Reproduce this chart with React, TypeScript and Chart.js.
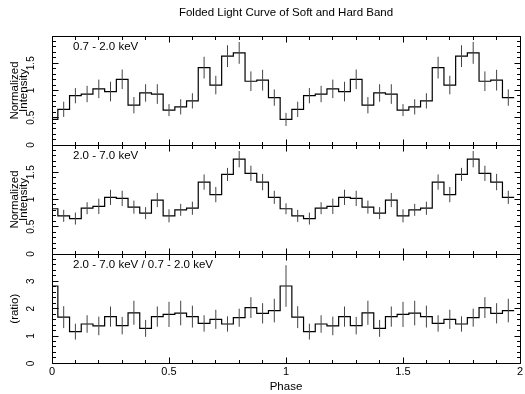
import React, { useEffect, useRef } from 'react';
import { Chart, registerables } from 'chart.js';

Chart.register(...registerables);
Chart.defaults.font.family = '"Liberation Sans", Arial, Helvetica, sans-serif';
Chart.defaults.color = '#000';

// ---- data (one folded cycle, plotted twice) ----
const binCenters = [0, 0.05, 0.1, 0.15, 0.2, 0.25, 0.3, 0.35, 0.4, 0.45, 0.5, 0.55, 0.6, 0.65, 0.7, 0.75, 0.8, 0.85, 0.9, 0.95];
const cycleOffsets = [0, 1];
const binHalfWidth = 0.025;

const softRate = [0.47, 0.655, 0.905, 0.935, 1.03, 0.98, 1.205, 0.73, 0.955, 0.935, 0.64, 0.70, 0.81, 1.42, 1.10, 1.63, 1.69, 1.17, 1.19, 0.87];
const softErr = [0.12, 0.14, 0.14, 0.15, 0.17, 0.18, 0.18, 0.15, 0.16, 0.18, 0.11, 0.14, 0.14, 0.20, 0.17, 0.20, 0.20, 0.18, 0.19, 0.15];

const hardRate = [0.83, 0.70, 0.65, 0.84, 0.875, 1.04, 1.02, 0.86, 0.75, 0.99, 0.70, 0.81, 0.84, 1.32, 1.09, 1.46, 1.74, 1.48, 1.32, 1.04];
const hardErr = [0.10, 0.11, 0.11, 0.11, 0.14, 0.14, 0.14, 0.12, 0.11, 0.13, 0.12, 0.11, 0.12, 0.14, 0.14, 0.12, 0.15, 0.14, 0.15, 0.12];

const ratioRate = [2.83, 1.69, 1.16, 1.44, 1.37, 1.71, 1.38, 1.85, 1.28, 1.71, 1.79, 1.84, 1.71, 1.46, 1.61, 1.44, 1.67, 2.04, 1.83, 1.93];
const ratioErr = [0.76, 0.40, 0.29, 0.32, 0.34, 0.37, 0.32, 0.44, 0.31, 0.37, 0.46, 0.45, 0.40, 0.30, 0.35, 0.28, 0.33, 0.38, 0.37, 0.43];

const bandLabels = ['0.7 - 2.0 keV', '2.0 - 7.0 keV', '2.0 - 7.0 keV / 0.7 - 2.0 keV'];
const phaseTicks = [0, 0.5, 1, 1.5, 2];
const intensityTicks = [0, 0.5, 1, 1.5];
const ratioTicks = [0, 1, 2, 3];

const TITLE = 'Folded Light Curve of Soft and Hard Band';

function stepPoints(vals: number[]) {
  const pts: { x: number; y: number }[] = [];
  cycleOffsets.forEach((off) =>
    binCenters.forEach((c, i) => pts.push({ x: Math.max(0, off + c - binHalfWidth), y: vals[i] }))
  );
  const lastC = cycleOffsets[cycleOffsets.length - 1] + binCenters[binCenters.length - 1];
  pts.push({ x: lastC + binHalfWidth, y: vals[vals.length - 1] });
  return pts;
}

function errPoints(vals: number[], errs: number[]) {
  const pts: { x: number; y: number | null }[] = [];
  cycleOffsets.forEach((off) =>
    binCenters.forEach((c, i) => {
      const x = off + c;
      pts.push({ x, y: vals[i] - errs[i] }, { x, y: vals[i] + errs[i] }, { x, y: null });
    })
  );
  return pts;
}

const fmt = (v: number | string) => String(Number(v));

const framePlugin = {
  id: 'pgframe',
  afterDraw(chart: any, _args: any, opts: any) {
    const { ctx, chartArea: a, scales } = chart;
    const xs = scales.x;
    const ys = scales.y;
    const crisp = (v: number) => Math.floor(v) + 0.5;
    ctx.save();
    ctx.strokeStyle = '#000';
    ctx.lineWidth = 1;
    const L = crisp(a.left), R = crisp(a.right), T = crisp(a.top), B = crisp(a.bottom);
    ctx.beginPath();
    ctx.rect(L, T, R - L, B - T);
    ctx.stroke();
    const eps = 1e-6;
    const majLen = 6, minLen = 3.5;
    ctx.beginPath();
    for (let i = 0; ; i++) {
      const v = xs.min + i * opts.xMinor;
      if (v > xs.max + eps) break;
      const isMaj = Math.abs(v / opts.xMajor - Math.round(v / opts.xMajor)) < eps;
      const len = isMaj ? majLen : minLen;
      const px = crisp(xs.getPixelForValue(v));
      ctx.moveTo(px, B); ctx.lineTo(px, B - len);
      ctx.moveTo(px, T); ctx.lineTo(px, T + len);
    }
    for (let i = 0; ; i++) {
      const v = ys.min + i * opts.yMinor;
      if (v > ys.max + eps) break;
      const isMaj = Math.abs(v / opts.yMajor - Math.round(v / opts.yMajor)) < eps;
      const len = isMaj ? majLen : minLen;
      const py = crisp(ys.getPixelForValue(v));
      ctx.moveTo(L, py); ctx.lineTo(L + len, py);
      ctx.moveTo(R, py); ctx.lineTo(R - len, py);
    }
    ctx.stroke();
    ctx.fillStyle = '#000';
    ctx.font = '11.5px "Liberation Sans", Arial, sans-serif';
    ctx.textBaseline = 'middle';
    ctx.textAlign = 'left';
    ctx.fillText(opts.label, a.left + 21, a.top + 11);
    ctx.restore();
  },
};

function makeConfig(p: {
  rate: number[]; err: number[]; label: string; yMax: number; yTicks: number[];
  yMajor: number; yMinor: number; yTitle: string | string[]; tickPad: number;
  padTop: number; padBottom: number; showX: boolean; showTitle: boolean;
}): any {
  return {
    type: 'line',
    data: {
      datasets: [
        {
          data: errPoints(p.rate, p.err),
          borderColor: '#444',
          borderWidth: 1,
          pointRadius: 0,
          spanGaps: false,
        },
        {
          data: stepPoints(p.rate),
          borderColor: '#000',
          borderWidth: 1.2,
          pointRadius: 0,
          stepped: 'before',
        },
      ],
    },
    options: {
      animation: false,
      responsive: false,
      devicePixelRatio: 1,
      events: [],
      layout: { padding: { left: 0, right: 5, top: p.padTop, bottom: p.padBottom } },
      plugins: {
        legend: { display: false },
        tooltip: { enabled: false },
        title: {
          display: p.showTitle,
          text: TITLE,
          color: '#000',
          fullSize: false,
          font: { size: 11.5, weight: 'normal' },
          padding: { top: 6, bottom: 16.2 },
        },
        pgframe: { label: p.label, xMajor: 0.5, xMinor: 0.1, yMajor: p.yMajor, yMinor: p.yMinor },
      },
      scales: {
        x: {
          type: 'linear',
          min: 0,
          max: 2,
          display: p.showX,
          afterBuildTicks: (s: any) => { s.ticks = phaseTicks.map((value) => ({ value })); },
          ticks: { font: { size: 11, lineHeight: 1.35 }, padding: 1, maxRotation: 0, color: '#000', callback: fmt },
          grid: { display: false, drawTicks: false },
          border: { display: false },
          title: { display: true, text: 'Phase', color: '#000', font: { size: 11.5, lineHeight: 1.2 }, padding: { top: 0, bottom: 0 } },
        },
        y: {
          type: 'linear',
          min: 0,
          max: p.yMax,
          afterBuildTicks: (s: any) => { s.ticks = p.yTicks.map((value) => ({ value })); },
          afterFit: (s: any) => { s.width = 52; },
          ticks: { font: { size: 10 }, minRotation: 90, maxRotation: 90, crossAlign: 'center', padding: p.tickPad, color: '#000', callback: fmt },
          grid: { display: false, drawTicks: false },
          border: { display: false },
          title: {
            display: true,
            text: p.yTitle,
            color: '#000',
            font: { size: 11.5, lineHeight: 0.82 },
            padding: { top: 9.8, bottom: 0 },
          },
        },
      },
    },
    plugins: [framePlugin],
  };
}

export default function App() {
  const r1 = useRef<HTMLCanvasElement>(null);
  const r2 = useRef<HTMLCanvasElement>(null);
  const r3 = useRef<HTMLCanvasElement>(null);

  useEffect(() => {
    const charts = [
      new Chart(r1.current as HTMLCanvasElement, makeConfig({
        rate: softRate, err: softErr, label: bandLabels[0], yMax: 2, yTicks: intensityTicks,
        yMajor: 0.5, yMinor: 0.1, yTitle: ['Normalized', 'Intensity'], tickPad: 13.5,
        padTop: 0, padBottom: 249, showX: false, showTitle: true,
      })),
      new Chart(r2.current as HTMLCanvasElement, makeConfig({
        rate: hardRate, err: hardErr, label: bandLabels[1], yMax: 2, yTicks: intensityTicks,
        yMajor: 0.5, yMinor: 0.1, yTitle: ['Normalized', 'Intensity'], tickPad: 13.5,
        padTop: 145, padBottom: 140, showX: false, showTitle: false,
      })),
      new Chart(r3.current as HTMLCanvasElement, makeConfig({
        rate: ratioRate, err: ratioErr, label: bandLabels[2], yMax: 4, yTicks: ratioTicks,
        yMajor: 1, yMinor: 0.2, yTitle: '(ratio)', tickPad: 17.8,
        padTop: 254, padBottom: 0, showX: true, showTitle: false,
      })),
    ];
    return () => charts.forEach((c) => c.destroy());
  }, []);

  const cs: React.CSSProperties = { position: 'absolute', left: 0, top: 0 };
  return (
    <div style={{ position: 'fixed', left: 0, top: 0, width: 525, height: 394, background: '#fff' }}>
      <canvas ref={r1} width={525} height={394} style={cs} />
      <canvas ref={r2} width={525} height={394} style={cs} />
      <canvas ref={r3} width={525} height={394} style={cs} />
    </div>
  );
}
